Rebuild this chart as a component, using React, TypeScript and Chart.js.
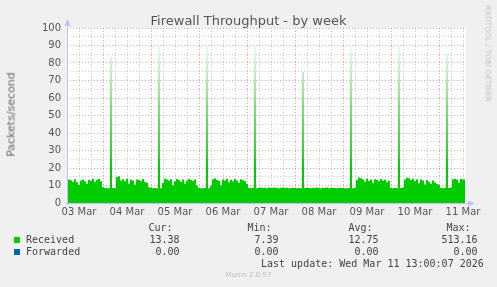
import { useEffect, useRef } from 'react';
import { Chart, registerables } from 'chart.js';

Chart.register(...registerables);

// ---- Data (hourly samples, hour 0 = 03 Mar 06:00) ----
const dayLabels = ['03 Mar', '04 Mar', '05 Mar', '06 Mar', '07 Mar', '08 Mar', '09 Mar', '10 Mar', '11 Mar'];

const receivedMar03 = [12.6, 13.4, 13.0, 12.2, 13.6, 11.8, 10.3, 12.9, 13.5, 12.4, 11.0, 13.2, 12.7, 13.8, 12.1, 13.3, 13.9, 12.5];
const receivedMar04 = [9.0, 8.6, 8.5, 8.4, 83.0, 8.6, 8.5, 14.8, 15.3, 12.9, 13.6, 12.4, 13.8, 11.2, 13.4, 12.8, 10.4, 13.5, 13.1, 12.6, 13.7, 12.0, 11.6, 9.0];
const receivedMar05 = [8.7, 8.5, 8.6, 8.4, 90.0, 8.5, 11.5, 13.9, 13.4, 12.8, 13.6, 10.2, 12.5, 13.7, 13.1, 12.2, 13.5, 11.0, 12.8, 13.9, 13.2, 12.6, 13.4, 10.0];
const receivedMar06 = [8.6, 8.5, 8.4, 8.6, 90.0, 8.5, 9.8, 13.6, 14.1, 13.2, 12.7, 10.1, 13.5, 12.9, 13.8, 11.9, 13.3, 12.5, 13.7, 12.8, 11.4, 13.6, 13.0, 12.4];
const receivedMar07 = [11.0, 8.6, 8.5, 8.7, 90.0, 8.5, 8.6, 8.8, 8.6, 8.7, 8.5, 8.9, 8.6, 8.7, 8.8, 8.6, 8.5, 8.7, 8.9, 8.6, 8.7, 8.5, 8.6, 8.7];
const receivedMar08 = [8.6, 8.5, 8.6, 8.4, 75.0, 8.6, 8.7, 8.6, 8.5, 8.7, 8.6, 8.8, 8.6, 8.5, 8.7, 8.6, 8.8, 8.5, 8.6, 8.7, 8.6, 8.5, 8.7, 8.6];
const receivedMar09 = [8.6, 8.5, 8.4, 8.6, 88.0, 8.5, 8.7, 13.2, 14.6, 14.2, 13.5, 12.1, 13.8, 12.6, 13.4, 11.5, 13.6, 13.1, 12.4, 13.7, 12.9, 13.3, 11.8, 12.7];
const receivedMar10 = [8.6, 8.5, 8.7, 8.4, 90.0, 8.6, 8.8, 13.5, 14.4, 14.1, 13.2, 13.8, 12.5, 13.6, 11.3, 13.4, 12.8, 10.6, 13.1, 12.2, 11.0, 12.9, 11.7, 10.8];
const receivedMar11 = [10.4, 8.6, 8.5, 8.7, 85.0, 8.6, 8.8, 13.6, 13.9, 13.4, 11.6, 13.8, 13.5, 13.38];

const received = [
  ...receivedMar03, ...receivedMar04, ...receivedMar05, ...receivedMar06,
  ...receivedMar07, ...receivedMar08, ...receivedMar09, ...receivedMar10, ...receivedMar11,
];
const forwardedHours = [0, 199];
const forwardedValues = [0, 0];

const legendHeaders = ['Cur:', 'Min:', 'Avg:', 'Max:'];
const receivedStats = ['13.38', '7.39', '12.75', '513.16'];
const forwardedStats = ['0.00', '0.00', '0.00', '0.00'];
const lastUpdate = 'Last update: Wed Mar 11 13:00:07 2026';

// ---- Styles ----
const GREEN = '#00CC00';
const BLUE = '#0066B3';
const MAJOR = 'rgba(225,110,110,0.65)';
const MINOR = 'rgba(150,150,150,0.5)';
const AXIS = 'rgb(190,196,238)';
const TEXT = '#555';
const MONO = "'DejaVu Sans Mono', monospace";
const SANS = "'DejaVu Sans', sans-serif";

const headerLeft = [148.5, 247.5, 348.5, 446.5];
const valueRight = [179.5, 278.5, 378.5, 477.5];

export default function App() {
  const canvasRef = useRef<HTMLCanvasElement | null>(null);

  useEffect(() => {
    const canvas = canvasRef.current;
    if (!canvas) return;

    const bgPlugin = {
      id: 'plotBg',
      beforeDraw(chart: any) {
        const { ctx, chartArea } = chart;
        ctx.save();
        ctx.fillStyle = '#FFFFFF';
        ctx.fillRect(chartArea.left, chartArea.top, chartArea.right - chartArea.left, chartArea.bottom - chartArea.top);
        ctx.restore();
      },
    };

    const axisPlugin = {
      id: 'rrdAxes',
      afterDraw(chart: any) {
        const { ctx, chartArea } = chart;
        const x0 = Math.round(chartArea.left) + 0.5;
        const y0 = Math.round(chartArea.bottom) + 0.5;
        ctx.save();
        ctx.strokeStyle = AXIS;
        ctx.fillStyle = AXIS;
        ctx.lineWidth = 1;
        ctx.beginPath();
        ctx.moveTo(x0, y0 + 2);
        ctx.lineTo(x0, chartArea.top - 4);
        ctx.moveTo(x0 - 2, y0);
        ctx.lineTo(chartArea.right + 3, y0);
        ctx.stroke();
        ctx.beginPath();
        ctx.moveTo(x0, chartArea.top - 9);
        ctx.lineTo(x0 - 3, chartArea.top - 2);
        ctx.lineTo(x0 + 3, chartArea.top - 2);
        ctx.closePath();
        ctx.fill();
        ctx.beginPath();
        ctx.moveTo(chartArea.right + 9, y0);
        ctx.lineTo(chartArea.right + 2, y0 - 3);
        ctx.lineTo(chartArea.right + 2, y0 + 3);
        ctx.closePath();
        ctx.fill();
        ctx.restore();
      },
    };

    const gradientFill = (context: any) => {
      const chart = context.chart;
      const { ctx, chartArea, scales } = chart;
      if (!chartArea || !scales || !scales.y) return GREEN;
      const y0 = scales.y.getPixelForValue(0);
      const y1 = scales.y.getPixelForValue(100);
      const g = ctx.createLinearGradient(0, y0, 0, y1);
      g.addColorStop(0, GREEN);
      g.addColorStop(0.18, GREEN);
      g.addColorStop(0.32, '#3ED03E');
      g.addColorStop(0.55, '#80DD80');
      g.addColorStop(0.75, '#C4EDC4');
      g.addColorStop(0.9, '#F0FBF0');
      g.addColorStop(1, '#FFFFFF');
      return g;
    };

    const chart = new Chart(canvas, {
      type: 'line',
      data: {
        datasets: [
          {
            label: 'Received',
            data: received.map((v, i) => ({ x: i, y: v })),
            stepped: 'middle',
            fill: 'origin',
            backgroundColor: gradientFill,
            borderColor: 'rgba(0,0,0,0)',
            borderWidth: 0,
            pointRadius: 0,
          },
          {
            label: 'Forwarded',
            data: forwardedHours.map((h, i) => ({ x: h, y: forwardedValues[i] })),
            fill: false,
            borderColor: 'rgba(0,0,0,0)',
            backgroundColor: BLUE,
            borderWidth: 0,
            pointRadius: 0,
          },
        ],
      },
      options: {
        animation: false,
        responsive: false,
        maintainAspectRatio: false,
        layout: { padding: { left: 0, top: 28, right: 31, bottom: 64 } },
        plugins: {
          legend: { display: false },
          tooltip: { enabled: false },
          title: { display: false },
        },
        scales: {
          x: {
            type: 'linear',
            min: 0,
            max: 199.5,
            afterFit: (s: any) => { s.height = 20; },
            border: { display: false, dash: [1, 2] },
            grid: {
              drawTicks: false,
              color: (ctx: any) => (ctx.tick && ctx.tick.value % 24 === 18 ? MAJOR : MINOR),
            },
            ticks: {
              stepSize: 6,
              includeBounds: false,
              autoSkip: false,
              maxRotation: 0,
              minRotation: 0,
              padding: 3,
              color: TEXT,
              font: { family: SANS, size: 10 },
              callback: (v: any) => {
                const n = Number(v);
                return (n - 6) % 24 === 0 ? dayLabels[(n - 6) / 24] ?? '' : '';
              },
            },
          },
          y: {
            min: 0,
            max: 100,
            afterFit: (s: any) => { s.width = 67; },
            border: { display: false, dash: [1, 2] },
            grid: {
              drawTicks: false,
              color: (ctx: any) => (ctx.tick && ctx.tick.value % 10 === 0 ? MAJOR : MINOR),
            },
            ticks: {
              stepSize: 5,
              autoSkip: false,
              padding: 6,
              color: TEXT,
              font: { family: SANS, size: 10 },
              callback: (v: any) => (Number(v) % 10 === 0 ? String(v) : ''),
            },
          },
        },
      } as any,
      plugins: [bgPlugin, axisPlugin],
    });

    return () => chart.destroy();
  }, []);

  const mono: React.CSSProperties = {
    position: 'absolute',
    fontFamily: MONO,
    fontSize: 10,
    lineHeight: '12px',
    color: '#444',
    whiteSpace: 'pre',
  };
  const rowTops = [222, 234, 246, 258];

  return (
    <div style={{ position: 'fixed', left: 0, top: 0, width: 497, height: 287, background: '#F0F0F0', overflow: 'hidden' }}>
      <canvas ref={canvasRef} width={497} height={287} style={{ position: 'absolute', left: 0, top: 0, width: 497, height: 287 }} />
      <div style={{ position: 'absolute', left: 0, top: 13, width: 497, textAlign: 'center', fontFamily: SANS, fontSize: 13, lineHeight: '15px', color: TEXT }}>
        Firewall Throughput - by week
      </div>
      <div style={{ position: 'absolute', left: 11 - 60, top: 108, width: 120, height: 13, textAlign: 'center', fontFamily: SANS, fontSize: 11, lineHeight: '13px', fontWeight: 400, color: '#666', transform: 'rotate(-90deg)', whiteSpace: 'nowrap' }}>
        Packets/second
      </div>
      <div style={{ position: 'absolute', left: 488 - 60, top: 49, width: 120, height: 9, textAlign: 'center', fontFamily: SANS, fontSize: 7.5, lineHeight: '9px', color: '#C4C4C4', transform: 'rotate(90deg)', whiteSpace: 'nowrap' }}>
        RRDTOOL / TOBI OETIKER
      </div>

      {legendHeaders.map((h, i) => (
        <div key={'h' + i} style={{ ...mono, left: headerLeft[i], top: rowTops[0] }}>{h}</div>
      ))}

      <div style={{ position: 'absolute', left: 14, top: 237, width: 6, height: 6, background: GREEN }} />
      <div style={{ ...mono, left: 26, top: rowTops[1] }}>Received</div>
      {receivedStats.map((v, i) => (
        <div key={'r' + i} style={{ ...mono, right: 497 - valueRight[i], top: rowTops[1], textAlign: 'right' }}>{v}</div>
      ))}

      <div style={{ position: 'absolute', left: 14, top: 249, width: 6, height: 6, background: BLUE }} />
      <div style={{ ...mono, left: 26, top: rowTops[2] }}>Forwarded</div>
      {forwardedStats.map((v, i) => (
        <div key={'f' + i} style={{ ...mono, right: 497 - valueRight[i], top: rowTops[2], textAlign: 'right' }}>{v}</div>
      ))}

      <div style={{ ...mono, left: 261, top: rowTops[3] }}>{lastUpdate}</div>

      <div style={{ position: 'absolute', left: 0, width: 497, top: 271, textAlign: 'center', fontFamily: SANS, fontSize: 7, lineHeight: '9px', color: '#BBBBBB' }}>
        Munin 2.0.57
      </div>
    </div>
  );
}
